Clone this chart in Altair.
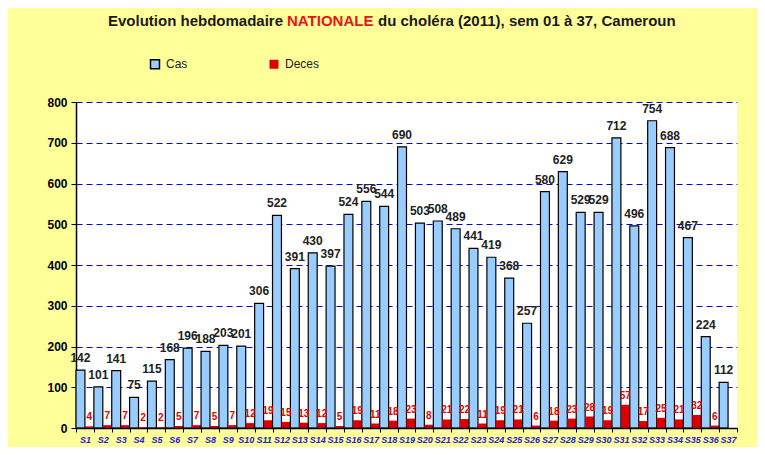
import altair as alt
import pandas as pd

weeks = [f"S{i}" for i in range(1, 38)]
series = ["Cas", "Deces"]
cas = [142, 101, 141, 75, 115, 168, 196, 188, 203, 201, 306, 522, 391, 430, 397,
       524, 556, 544, 690, 503, 508, 489, 441, 419, 368, 257, 580, 629, 529, 529,
       712, 496, 754, 688, 467, 224, 112]
deces = [4, 7, 7, 2, 2, 5, 7, 5, 7, 12, 19, 15, 13, 12, 5,
         19, 11, 18, 23, 8, 21, 22, 11, 19, 21, 6, 18, 23, 28, 19,
         57, 17, 25, 21, 32, 6, None]
y_ticks = [0, 100, 200, 300, 400, 500, 600, 700, 800]

title_a = "Evolution hebdomadaire"
title_b = "NATIONALE"
title_c = "du choléra (2011), sem 01 à 37, Cameroun"

rows = []
for w, c, d in zip(weeks, cas, deces):
    rows.append({"week": w, "series": "Cas", "value": c})
    rows.append({"week": w, "series": "Deces", "value": d})
df = pd.DataFrame(rows)

SANS = "Liberation Sans"

x_enc = alt.X(
    "week:N", sort=weeks,
    scale=alt.Scale(paddingInner=0, paddingOuter=0),
    axis=alt.Axis(
        title=None, labelAngle=0, labelFont=SANS, labelFontSize=9,
        labelFontWeight="bold", labelFontStyle="italic", labelColor="#2020D0",
        labelPadding=3, tickBand="extent", tickSize=4, tickColor="black",
        domainColor="black", domainWidth=1.5, labelOverlap=False, grid=False,
        zindex=1,
    ),
)
xo_enc = alt.XOffset(
    "series:N", sort=series,
    scale=alt.Scale(domain=series, paddingInner=0, paddingOuter=0),
)
y_enc = alt.Y(
    "value:Q",
    scale=alt.Scale(domain=[0, 800]),
    axis=alt.Axis(
        title=None, values=y_ticks, labelFont=SANS, labelFontSize=12,
        labelFontWeight="bold", labelColor="black", tickSize=5, tickColor="black",
        domainColor="black", domainWidth=1.5, gridColor="#0000EE",
        gridDash=[6, 4], gridWidth=1, labelPadding=4,
    ),
)

base = alt.Chart(df)

bars = base.mark_bar(strokeWidth=1.2).encode(
    x=x_enc, xOffset=xo_enc, y=y_enc,
    fill=alt.Fill(
        "series:N",
        scale=alt.Scale(domain=series, range=["#99CCFF", "#DD0000"]),
        legend=alt.Legend(
            orient="none", legendX=73, legendY=-44, direction="horizontal",
            title=None, symbolType="square", symbolSize=81, labelFont=SANS,
            labelFontSize=12, labelColor="#222222", columnPadding=78,
            padding=0, labelOffset=5,
        ),
    ),
    stroke=alt.Stroke(
        "series:N",
        scale=alt.Scale(domain=series, range=["#000000", "transparent"]),
    ),
)

cas_text = base.transform_filter("datum.series == 'Cas'").mark_text(
    baseline="alphabetic", dy=-8, font=SANS, fontSize=12, fontWeight="bold",
    color="#222222",
).encode(x=x_enc, xOffset=xo_enc, y=y_enc, text="value:Q")

deces_text = base.transform_filter(
    "datum.series == 'Deces' && isValid(datum.value)"
).mark_text(
    baseline="alphabetic", dy=-6, font=SANS, fontSize=10, fontWeight="bold",
    color="#E00000",
).encode(x=x_enc, xOffset=xo_enc, y=y_enc, text="value:Q")


def title_part(txt, xpos, align, color):
    return alt.Chart(pd.DataFrame({"t": [txt]})).mark_text(
        align=align, baseline="alphabetic", font=SANS, fontSize=15,
        fontWeight="bold", color=color,
    ).encode(x=alt.value(xpos), y=alt.value(-76), text="t:N")


t1 = title_part(title_a, 207, "right", "#1A1A1A")
t2 = title_part(title_b, 211, "left", "#E8141C")
t3 = title_part(title_c, 302, "left", "#1A1A1A")

chart = alt.layer(bars, cas_text, deces_text, t1, t2, t3).properties(
    width=661, height=326,
    padding={"left": 68, "top": 94, "right": 20, "bottom": 19},
    autosize=alt.AutoSizeParams(type="none"),
    background="#FFFF99",
).configure_view(fill="white", stroke=None)

chart.save("out.html", embed_options={"renderer": "svg", "actions": False})
